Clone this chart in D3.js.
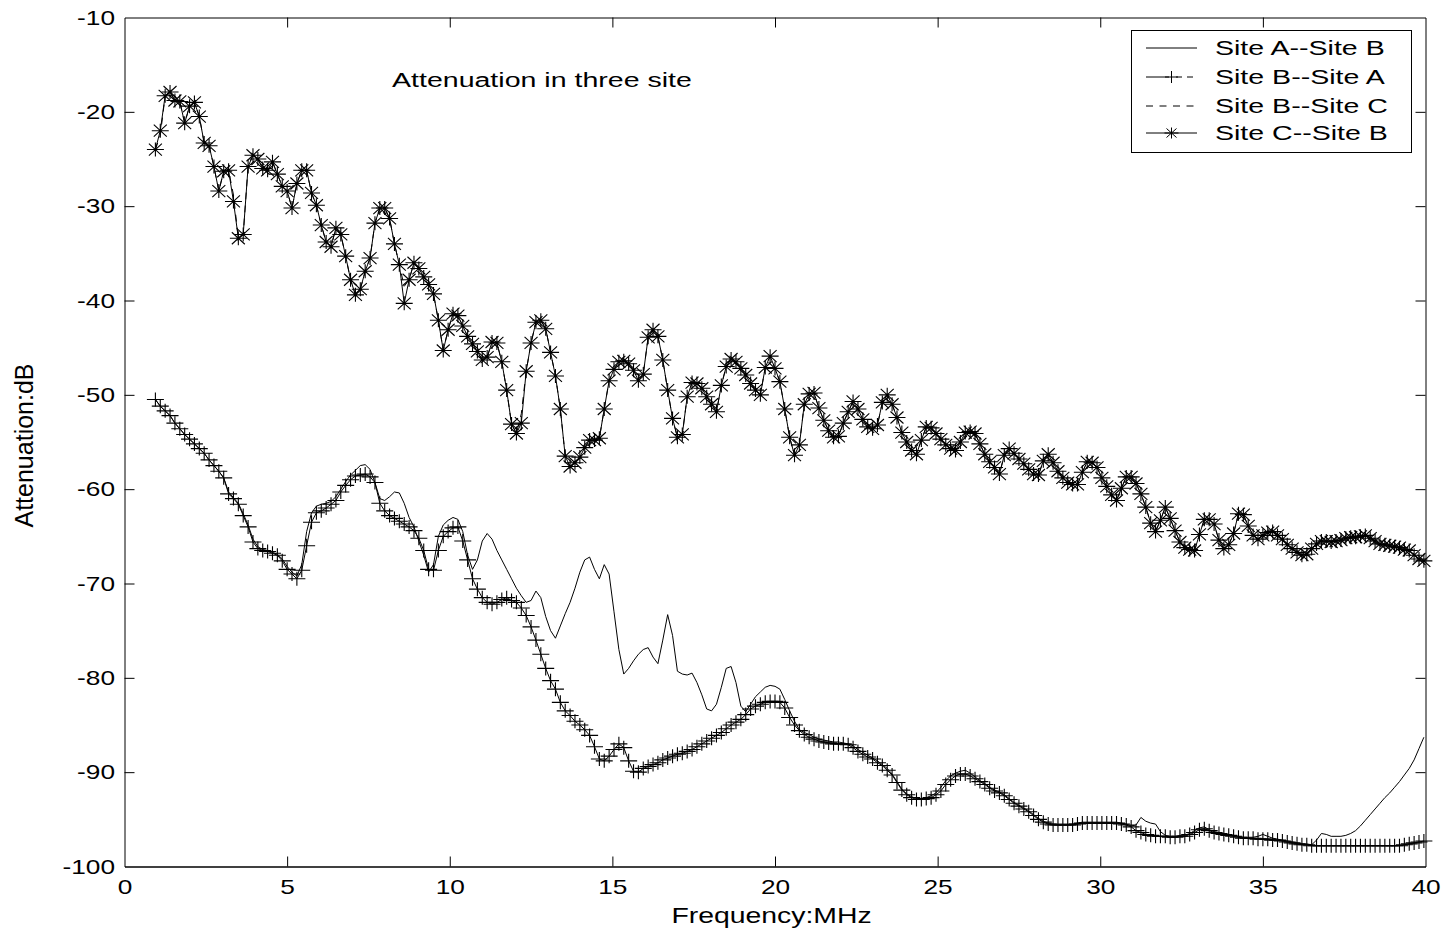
<!DOCTYPE html>
<html>
<head>
<meta charset="utf-8">
<script src="https://cdn.jsdelivr.net/npm/d3@7"></script>
<style>
  html, body { margin: 0; padding: 0; background: #fff; }
  svg { display: block; font-family: "Liberation Sans", Arial, Helvetica, sans-serif; }
</style>
</head>
<body>
<svg id="chart" width="1447" height="932"></svg>
<script>
// Frequency sampling of every measured series (MHz)
const freqStart = 0.95;
const freqStep = 0.15;

const xTickValues = [0, 5, 10, 15, 20, 25, 30, 35, 40];
const yTickValues = [-100, -90, -80, -70, -60, -50, -40, -30, -20, -10];

const seriesLabels = ["Site A--Site B", "Site B--Site A", "Site B--Site C", "Site C--Site B"];
const titleText = "Attenuation in three site";
const xLabelText = "Frequency:MHz";
const yLabelText = "Attenuation:dB";

// Attenuation (dB) per frequency sample
const siteAB = [
  -50.5,-51.2,-51.7,-52.2,-53.0,-53.6,-54.2,-54.7,-55.2,-55.7,
  -56.2,-56.9,-57.5,-58.1,-58.8,-60.3,-60.9,-61.5,-62.6,-63.8,
  -65.3,-66.1,-66.4,-66.5,-66.7,-66.9,-67.4,-68.2,-68.8,-69.2,
  -68.0,-64.5,-62.5,-61.8,-61.6,-61.5,-61.3,-60.8,-60.0,-59.2,
  -58.5,-58.0,-57.5,-57.4,-57.9,-59.3,-61.0,-61.2,-60.8,-60.3,
  -60.4,-61.5,-63.0,-64.0,-65.5,-67.0,-68.8,-68.0,-65.0,-63.8,
  -63.3,-63.0,-63.2,-64.5,-67.0,-68.5,-67.5,-65.5,-64.7,-65.3,
  -66.5,-67.5,-68.5,-69.5,-70.5,-71.3,-72.0,-71.8,-70.8,-71.5,
  -73.5,-75.0,-75.8,-74.5,-73.2,-72.0,-70.5,-68.8,-67.5,-67.2,
  -68.5,-69.5,-68.0,-69.0,-73.0,-77.0,-79.6,-79.0,-78.2,-77.5,
  -77.0,-76.8,-77.8,-78.5,-76.0,-73.3,-75.5,-79.3,-79.6,-79.7,
  -79.5,-80.5,-81.8,-83.3,-83.5,-82.8,-81.0,-79.0,-78.8,-80.5,
  -83.0,-83.6,-82.8,-82.0,-81.5,-81.0,-80.8,-80.9,-81.2,-82.3,
  -83.5,-84.6,-85.5,-85.8,-86.0,-86.3,-86.5,-86.6,-86.7,-86.8,
  -86.8,-86.9,-87.0,-87.2,-87.6,-87.9,-88.2,-88.5,-88.8,-89.2,
  -89.6,-90.2,-91.0,-91.8,-92.3,-92.6,-92.8,-92.8,-92.7,-92.5,
  -92.2,-91.6,-90.9,-90.4,-90.1,-89.9,-89.8,-90.1,-90.5,-90.9,
  -91.2,-91.6,-91.9,-92.1,-92.4,-92.8,-93.2,-93.5,-93.8,-94.1,
  -94.5,-94.9,-95.2,-95.4,-95.5,-95.5,-95.5,-95.5,-95.5,-95.4,
  -95.3,-95.3,-95.3,-95.3,-95.3,-95.3,-95.3,-95.3,-95.4,-95.5,
  -95.7,-95.6,-94.8,-95.2,-95.4,-95.5,-96.3,-96.7,-96.8,-96.8,
  -96.7,-96.7,-96.5,-96.2,-95.9,-95.8,-96.1,-96.3,-96.4,-96.5,
  -96.6,-96.7,-96.8,-96.9,-96.9,-96.9,-96.8,-96.6,-96.8,-97.0,
  -97.1,-97.2,-97.3,-97.4,-97.5,-97.6,-97.6,-97.7,-97.2,-96.5,
  -96.6,-96.8,-96.8,-96.8,-96.7,-96.5,-96.2,-95.7,-95.1,-94.5,
  -93.9,-93.3,-92.7,-92.2,-91.6,-91.0,-90.3,-89.6,-88.7,-87.5,
  -86.3
];

const siteBA = [
  -50.5,-51.2,-51.7,-52.2,-53.0,-53.6,-54.2,-54.7,-55.2,-55.7,
  -56.2,-56.9,-57.5,-58.1,-58.8,-60.5,-61.0,-61.6,-62.8,-64.0,
  -65.6,-66.3,-66.5,-66.6,-66.8,-67.0,-67.6,-68.5,-69.0,-69.5,
  -68.6,-66.0,-63.5,-62.5,-62.3,-62.0,-61.6,-61.2,-60.3,-59.6,
  -59.0,-58.6,-58.5,-58.4,-58.7,-59.3,-61.5,-62.3,-62.8,-63.1,
  -63.4,-63.7,-64.0,-64.4,-65.2,-66.5,-68.5,-68.6,-66.5,-65.0,
  -64.5,-64.1,-64.0,-65.5,-67.5,-69.5,-70.6,-71.5,-72.0,-72.2,
  -72.0,-71.7,-71.5,-71.8,-72.0,-72.6,-73.4,-74.6,-76.0,-77.5,
  -79.0,-80.3,-81.2,-82.6,-83.5,-84.0,-84.6,-85.0,-85.5,-86.1,
  -87.3,-88.6,-88.8,-88.3,-87.6,-87.0,-87.4,-88.8,-89.9,-90.0,
  -89.6,-89.4,-89.2,-89.0,-88.7,-88.5,-88.3,-88.1,-88.0,-87.8,
  -87.6,-87.3,-87.0,-86.7,-86.4,-86.1,-85.8,-85.4,-85.0,-84.7,
  -84.4,-83.9,-83.3,-83.0,-82.8,-82.6,-82.5,-82.5,-82.6,-83.2,
  -84.2,-85.0,-85.6,-86.0,-86.3,-86.5,-86.7,-86.8,-86.9,-87.0,
  -87.0,-87.0,-87.1,-87.4,-87.8,-88.1,-88.4,-88.6,-89.0,-89.3,
  -89.8,-90.3,-91.1,-91.9,-92.4,-92.7,-92.9,-92.9,-92.8,-92.7,
  -92.4,-92.0,-91.3,-90.8,-90.4,-90.2,-90.2,-90.4,-90.7,-91.0,
  -91.3,-91.7,-92.0,-92.2,-92.5,-92.9,-93.3,-93.6,-93.9,-94.2,
  -94.6,-95.0,-95.3,-95.5,-95.6,-95.6,-95.6,-95.6,-95.6,-95.5,
  -95.4,-95.4,-95.4,-95.4,-95.4,-95.4,-95.4,-95.4,-95.5,-95.6,
  -95.8,-96.2,-96.4,-96.6,-96.7,-96.8,-96.8,-96.8,-96.9,-96.9,
  -96.8,-96.8,-96.6,-96.4,-96.1,-96.0,-96.2,-96.4,-96.5,-96.6,
  -96.7,-96.8,-96.9,-97.0,-97.0,-97.0,-97.1,-97.1,-97.1,-97.2,
  -97.2,-97.3,-97.4,-97.5,-97.6,-97.7,-97.7,-97.8,-97.8,-97.8,
  -97.8,-97.8,-97.8,-97.8,-97.8,-97.8,-97.8,-97.8,-97.8,-97.8,
  -97.8,-97.8,-97.8,-97.8,-97.8,-97.8,-97.7,-97.6,-97.5,-97.4,
  -97.3
];

const siteBC = [
  -24.0,-22.5,-18.3,-17.9,-18.8,-18.9,-21.2,-19.4,-19.0,-20.5,
  -23.3,-23.6,-25.8,-28.4,-26.3,-26.2,-28.8,-33.4,-33.0,-25.8,
  -24.6,-25.0,-26.0,-26.2,-25.3,-26.6,-27.9,-28.4,-30.2,-27.6,
  -26.2,-26.2,-28.6,-29.9,-32.0,-33.8,-34.3,-32.3,-33.0,-35.3,
  -37.8,-39.4,-38.8,-36.9,-35.5,-31.8,-30.2,-30.2,-31.3,-34.0,
  -36.2,-38.5,-37.8,-36.0,-36.6,-37.5,-38.3,-39.3,-42.1,-45.3,
  -43.1,-41.4,-41.6,-42.7,-43.8,-44.6,-45.4,-46.3,-46.0,-44.4,
  -44.5,-46.5,-49.5,-53.1,-54.1,-52.0,-47.5,-44.5,-42.3,-42.1,
  -43.0,-45.5,-48.0,-51.5,-56.5,-57.6,-57.2,-56.6,-55.6,-54.8,
  -54.8,-54.6,-51.5,-48.5,-47.3,-46.5,-46.4,-46.7,-47.4,-48.5,
  -47.8,-43.9,-43.1,-43.8,-46.3,-49.5,-52.5,-54.5,-54.2,-50.2,
  -48.7,-48.8,-49.3,-50.2,-51.0,-51.8,-49.0,-47.0,-46.2,-46.5,
  -47.2,-47.9,-48.8,-49.5,-50.0,-47.1,-45.9,-47.2,-48.6,-51.5,
  -54.5,-56.4,-55.3,-51.0,-49.9,-49.8,-51.4,-52.7,-53.8,-54.5,
  -54.4,-53.0,-51.8,-50.7,-51.5,-52.6,-53.4,-53.6,-53.2,-50.8,
  -50.0,-51.0,-52.4,-54.0,-55.0,-55.9,-56.3,-54.8,-53.4,-53.5,
  -54.1,-54.7,-55.3,-55.7,-55.9,-55.0,-54.0,-53.9,-54.1,-55.2,
  -56.3,-57.1,-57.7,-58.4,-56.4,-55.7,-56.2,-56.8,-57.3,-57.9,
  -58.4,-58.5,-57.0,-56.3,-57.2,-58.1,-58.8,-59.3,-59.5,-59.5,
  -58.2,-57.1,-57.2,-57.7,-58.8,-59.7,-60.6,-61.2,-59.9,-58.7,
  -58.7,-59.4,-60.5,-61.9,-63.6,-64.5,-63.3,-61.9,-63.1,-64.4,
  -65.6,-66.2,-66.4,-66.5,-64.8,-63.2,-63.2,-63.7,-65.4,-66.3,
  -65.9,-64.7,-62.6,-62.7,-63.9,-64.9,-65.3,-64.9,-64.6,-64.5,
  -64.9,-65.3,-65.9,-66.3,-66.7,-67.0,-66.9,-66.3,-65.8,-65.5,
  -65.5,-65.6,-65.5,-65.4,-65.2,-65.1,-65.1,-65.0,-64.9,-65.2,
  -65.5,-65.8,-65.9,-66.0,-66.1,-66.2,-66.4,-66.5,-67.0,-67.4,
  -67.6
];

const siteCB = [
  -24.0,-22.0,-18.3,-17.9,-18.8,-18.9,-21.2,-19.4,-19.0,-20.5,
  -23.3,-23.6,-25.8,-28.4,-26.3,-26.2,-29.5,-33.4,-33.0,-25.8,
  -24.6,-25.0,-26.0,-26.2,-25.3,-26.6,-27.9,-28.4,-30.2,-27.6,
  -26.2,-26.2,-28.6,-29.9,-32.0,-33.8,-34.3,-32.3,-33.0,-35.3,
  -37.8,-39.4,-38.8,-36.9,-35.5,-31.8,-30.2,-30.2,-31.3,-34.0,
  -36.2,-40.3,-37.8,-36.0,-36.6,-37.5,-38.3,-39.3,-42.1,-45.3,
  -43.1,-41.4,-41.6,-42.7,-43.8,-44.6,-45.4,-46.3,-46.0,-44.4,
  -44.5,-46.5,-49.5,-53.1,-54.1,-53.0,-47.5,-44.5,-42.3,-42.1,
  -43.0,-45.5,-48.0,-51.5,-56.5,-57.6,-57.2,-56.6,-55.6,-54.8,
  -54.8,-54.6,-51.5,-48.5,-47.3,-46.5,-46.4,-46.7,-47.4,-48.5,
  -47.8,-43.9,-43.1,-43.8,-46.3,-49.5,-52.5,-54.5,-54.2,-50.2,
  -48.7,-48.8,-49.3,-50.2,-51.0,-51.8,-49.0,-47.0,-46.2,-46.5,
  -47.2,-47.9,-48.8,-49.5,-50.0,-47.1,-45.9,-47.2,-48.6,-51.5,
  -54.5,-56.4,-55.3,-51.0,-49.9,-49.8,-51.4,-52.7,-53.8,-54.5,
  -54.4,-53.0,-51.8,-50.7,-51.5,-52.6,-53.4,-53.6,-53.2,-50.8,
  -50.0,-51.0,-52.4,-54.0,-55.0,-55.9,-56.3,-54.8,-53.4,-53.5,
  -54.1,-54.7,-55.3,-55.7,-55.9,-55.0,-54.0,-53.9,-54.1,-55.2,
  -56.3,-57.1,-57.7,-58.4,-56.4,-55.7,-56.2,-56.8,-57.3,-57.9,
  -58.4,-58.5,-57.0,-56.3,-57.2,-58.1,-58.8,-59.3,-59.5,-59.5,
  -58.2,-57.1,-57.2,-57.7,-58.8,-59.7,-60.6,-61.2,-59.9,-58.7,
  -58.7,-59.4,-60.5,-61.9,-63.6,-64.5,-63.3,-61.9,-63.1,-64.4,
  -65.6,-66.2,-66.4,-66.5,-64.8,-63.2,-63.2,-63.7,-65.4,-66.3,
  -65.9,-64.7,-62.6,-62.7,-63.9,-64.9,-65.3,-64.9,-64.6,-64.5,
  -64.9,-65.3,-65.9,-66.3,-66.7,-67.0,-66.9,-66.3,-65.8,-65.5,
  -65.5,-65.6,-65.5,-65.4,-65.2,-65.1,-65.1,-65.0,-64.9,-65.2,
  -65.5,-65.8,-65.9,-66.0,-66.1,-66.2,-66.4,-66.5,-67.0,-67.4,
  -67.6
];

// ---------- layout ----------
const svg = d3.select("#chart");
const plot = { left: 124.5, right: 1425.5, top: 17.5, bottom: 866.5 };
const fontStack = '"Liberation Sans", Arial, Helvetica, sans-serif';

const x = d3.scaleLinear().domain([0, 40]).range([plot.left, plot.right]);
const y = d3.scaleLinear().domain([-100, -10]).range([plot.bottom, plot.top]);
const freqAt = i => freqStart + i * freqStep;
const plainNumber = d => String(d); // ASCII hyphen for negatives

// stretch a text element horizontally about its anchor point
function stretch(sel, sx) {
  sel.each(function () {
    const t = d3.select(this);
    const x0 = +t.attr("x") || 0, y0 = +t.attr("y") || 0;
    t.attr("transform", `translate(${x0},${y0}) scale(${sx},1) translate(${-x0},${-y0})`);
  });
}

// ---------- axes (inward ticks on all four sides) ----------
const tickLen = 10;
const gBottom = svg.append("g").attr("transform", `translate(0,${plot.bottom})`)
  .call(d3.axisBottom(x).tickValues(xTickValues).tickFormat(plainNumber)
    .tickSize(-tickLen).tickSizeOuter(0).tickPadding(13));
const gTop = svg.append("g").attr("transform", `translate(0,${plot.top})`)
  .call(d3.axisTop(x).tickValues(xTickValues).tickFormat("")
    .tickSize(-tickLen).tickSizeOuter(0));
const gLeft = svg.append("g").attr("transform", `translate(${plot.left},0)`)
  .call(d3.axisLeft(y).tickValues(yTickValues).tickFormat(plainNumber)
    .tickSize(-tickLen).tickSizeOuter(0).tickPadding(9.5));
const gRight = svg.append("g").attr("transform", `translate(${plot.right},0)`)
  .call(d3.axisRight(y).tickValues(yTickValues).tickFormat("")
    .tickSize(-tickLen).tickSizeOuter(0));

[gBottom, gTop, gLeft, gRight].forEach(g => {
  g.attr("font-family", fontStack).attr("font-size", 21);
  g.select(".domain").attr("stroke", "#000").attr("stroke-width", 1);
  g.selectAll(".tick line").attr("stroke", "#000").attr("stroke-width", 1);
  g.selectAll(".tick text").attr("fill", "#000");
});
gBottom.select(".domain").attr("stroke-width", 1.6);
gBottom.selectAll(".tick").filter(d => d === 0 || d === 40).select("line").remove();
gTop.selectAll(".tick").filter(d => d === 0 || d === 40).select("line").remove();
gLeft.selectAll(".tick").filter(d => d === -100 || d === -10).select("line").remove();
gRight.selectAll(".tick").filter(d => d === -100 || d === -10).select("line").remove();
stretch(gBottom.selectAll(".tick text"), 1.25);
stretch(gLeft.selectAll(".tick text"), 1.25);

// ---------- series ----------
const lineGen = d3.line().x((d, i) => x(freqAt(i))).y(d => y(d));
const plusPath = "M-8.5,0H8.5M0,-7V7";
const starPath = "M-8.5,0H8.5M0,-7V7M-6.5,-6L6.5,6M-6.5,6L6.5,-6";

const gSeries = svg.append("g");

gSeries.append("path").datum(siteAB)
  .attr("d", lineGen).attr("fill", "none").attr("stroke", "#000").attr("stroke-width", 1);

gSeries.append("path").datum(siteBA)
  .attr("d", lineGen).attr("fill", "none").attr("stroke", "#000").attr("stroke-width", 1);
gSeries.append("g").selectAll("path").data(siteBA).join("path")
  .attr("transform", (d, i) => `translate(${x(freqAt(i))},${y(d)})`)
  .attr("d", plusPath).attr("fill", "none").attr("stroke", "#000").attr("stroke-width", 1.1);

gSeries.append("path").datum(siteBC)
  .attr("d", lineGen).attr("fill", "none").attr("stroke", "#000").attr("stroke-width", 1)
  .attr("stroke-dasharray", "7,6");

gSeries.append("path").datum(siteCB)
  .attr("d", lineGen).attr("fill", "none").attr("stroke", "#000").attr("stroke-width", 1);
gSeries.append("g").selectAll("path").data(siteCB).join("path")
  .attr("transform", (d, i) => `translate(${x(freqAt(i))},${y(d)})`)
  .attr("d", starPath).attr("fill", "none").attr("stroke", "#000").attr("stroke-width", 1.1);

// ---------- title and axis labels ----------
const title = svg.append("text").attr("x", 392).attr("y", 87)
  .attr("font-family", fontStack).attr("font-size", 21).attr("fill", "#000")
  .text(titleText);
stretch(title, 1.36);

const xLabel = svg.append("text").attr("x", 771.5).attr("y", 923)
  .attr("text-anchor", "middle").attr("font-family", fontStack).attr("font-size", 22)
  .attr("fill", "#000").text(xLabelText);
stretch(xLabel, 1.29);

svg.append("text").attr("transform", "translate(33,445.5) rotate(-90)")
  .attr("text-anchor", "middle").attr("font-family", fontStack).attr("font-size", 25)
  .attr("fill", "#000").text(yLabelText);

// ---------- legend ----------
const legend = svg.append("g");
legend.append("rect").attr("x", 1131.5).attr("y", 30.5).attr("width", 280).attr("height", 122)
  .attr("fill", "#fff").attr("stroke", "#000").attr("stroke-width", 1);
const rowY = [48, 77, 106, 133];
const sx0 = 1146, sx1 = 1197, smid = 1171.5;

legend.append("line").attr("x1", sx0).attr("x2", sx1).attr("y1", rowY[0]).attr("y2", rowY[0])
  .attr("stroke", "#000");
legend.append("line").attr("x1", sx0).attr("x2", sx1).attr("y1", rowY[1]).attr("y2", rowY[1])
  .attr("stroke", "#000").attr("stroke-dasharray", "23,7,6,5,6,10");
legend.append("path").attr("transform", `translate(${smid},${rowY[1]})`)
  .attr("d", "M-6.5,0H6.5M0,-6V6").attr("stroke", "#000").attr("fill", "none");
legend.append("line").attr("x1", sx0).attr("x2", sx1).attr("y1", rowY[2]).attr("y2", rowY[2])
  .attr("stroke", "#000").attr("stroke-dasharray", "7,6.5");
legend.append("line").attr("x1", sx0).attr("x2", sx1).attr("y1", rowY[3]).attr("y2", rowY[3])
  .attr("stroke", "#000");
legend.append("path").attr("transform", `translate(${smid},${rowY[3]})`)
  .attr("d", "M-7,0H7M0,-5.5V5.5M-5,-4.5L5,4.5M-5,4.5L5,-4.5").attr("stroke", "#000").attr("fill", "none");

const legendText = legend.selectAll("text.lbl").data(seriesLabels).join("text")
  .attr("class", "lbl").attr("x", 1215).attr("y", (d, i) => rowY[i] + 7.5)
  .attr("font-family", fontStack).attr("font-size", 21).attr("fill", "#000")
  .text(d => d);
stretch(legendText, 1.36);
</script>
</body>
</html>
